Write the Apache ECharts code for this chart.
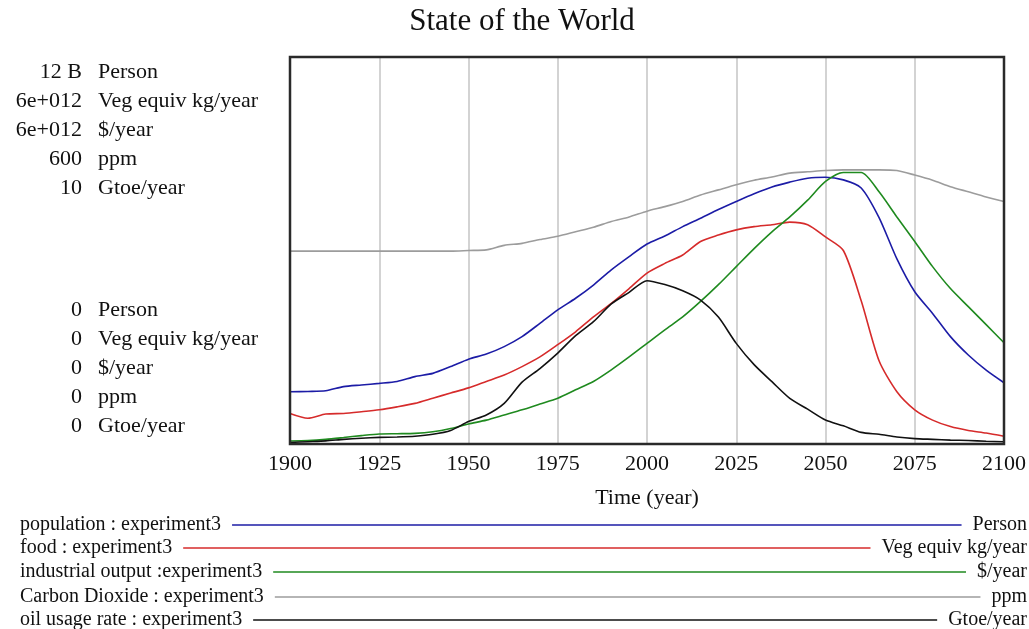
<!DOCTYPE html>
<html>
<head>
<meta charset="utf-8">
<title>State of the World</title>
<script src="https://cdn.jsdelivr.net/npm/echarts@6/dist/echarts.min.js"></script>
<style>
  html, body { margin: 0; padding: 0; background: #fff; }
  #chart { width: 1029px; height: 629px; }
</style>
</head>
<body>
<div id="chart"></div>
<script>
// Simulation output, sampled every 5 years
const years = [1900,1905,1910,1915,1920,1925,1930,1935,1940,1945,1950,1955,1960,1965,1970,1975,1980,1985,1990,1995,
               2000,2005,2010,2015,2020,2025,2030,2035,2040,2045,2050,2055,2060,2065,2070,2075,2080,2085,2090,2095,2100];

// population (billion persons)
const population = [1.62,1.63,1.65,1.78,1.83,1.88,1.94,2.09,2.19,2.40,2.63,2.79,3.02,3.33,3.74,4.16,4.52,4.93,5.40,5.81,
                    6.20,6.45,6.74,7.00,7.27,7.52,7.76,7.97,8.12,8.24,8.27,8.19,7.94,7.02,5.74,4.72,4.05,3.33,2.76,2.29,1.90];

// food (1e12 veg equiv kg/year)
const food = [0.474,0.40,0.465,0.474,0.50,0.53,0.576,0.63,0.71,0.79,0.87,0.97,1.07,1.20,1.35,1.54,1.74,1.97,2.18,2.41,
              2.65,2.80,2.93,3.14,3.24,3.32,3.37,3.40,3.44,3.40,3.21,3.00,2.22,1.29,0.81,0.53,0.37,0.27,0.21,0.17,0.12];

// industrial output (1e12 $/year)
const industrialOutput = [0.047,0.054,0.072,0.10,0.13,0.156,0.16,0.165,0.19,0.24,0.31,0.37,0.45,0.53,0.62,0.71,0.84,0.97,1.15,1.35,
                          1.56,1.77,1.97,2.21,2.47,2.75,3.03,3.29,3.52,3.78,4.07,4.21,4.21,3.91,3.52,3.14,2.75,2.41,2.13,1.85,1.57];

// carbon dioxide (ppm)
const carbonDioxide = [299,299,299,299,299,299,299,299,299,299,300,301,308,311,317,322,329,336,345,352,
                       361,368,376,386,394,402,409,414,420,422,424,425,425,425,424,417,409,399,391,383,376];

// oil usage rate (Gtoe/year)
const oilUsage = [0.04,0.06,0.08,0.12,0.15,0.17,0.18,0.20,0.25,0.35,0.58,0.75,1.05,1.60,1.95,2.35,2.80,3.16,3.62,3.92,
                  4.22,4.12,3.96,3.72,3.28,2.60,2.05,1.61,1.18,0.90,0.62,0.47,0.30,0.25,0.18,0.14,0.12,0.10,0.09,0.07,0.06];

const seriesNames = ['population : experiment3', 'food : experiment3', 'industrial output :experiment3',
                     'Carbon Dioxide : experiment3', 'oil usage rate : experiment3'];
const units = ['Person', 'Veg equiv kg/year', '$/year', 'ppm', 'Gtoe/year'];
const scaleMax = [12, 6, 6, 600, 10];
const scaleTopLabels = ['12 B', '6e+012', '6e+012', '600', '10'];
const scaleBottomLabels = ['0', '0', '0', '0', '0'];
const xTicks = [1900, 2100, 25];

const seriesValues = [population, food, industrialOutput, carbonDioxide, oilUsage];
const colors = ['#1c1ca6', '#d62b2b', '#1f8a1f', '#9c9c9c', '#111111'];

const SERIF = '"Liberation Serif", "DejaVu Serif", serif';
const chart = echarts.init(document.getElementById('chart'));

// grid box in pixels
const G = { left: 290, top: 57, width: 717, height: 387 };

// text width measurement for legend line lengths
const measureCtx = document.createElement('canvas').getContext('2d');
function textWidth(str, size) {
  measureCtx.font = size + 'px ' + SERIF;
  return measureCtx.measureText(str).width;
}

const graphics = [];

// Title
graphics.push({
  type: 'text', x: 522, y: 22,
  style: { text: 'State of the World', font: '31px ' + SERIF, fill: '#111',
           textAlign: 'center', textVerticalAlign: 'middle' }
});

// Scale labels to the left of the plot
const scaleFont = 22;
const rowStep = 29;
for (let i = 0; i < units.length; i++) {
  const yTop = 72 + i * rowStep;
  const yBot = 310 + i * rowStep;
  [[scaleTopLabels[i], yTop], [scaleBottomLabels[i], yBot]].forEach(([val, yy]) => {
    graphics.push({
      type: 'text', x: 82, y: yy,
      style: { text: val, font: scaleFont + 'px ' + SERIF, fill: '#111',
               textAlign: 'right', textVerticalAlign: 'middle' }
    });
    graphics.push({
      type: 'text', x: 98, y: yy,
      style: { text: units[i], font: scaleFont + 'px ' + SERIF, fill: '#111',
               textAlign: 'left', textVerticalAlign: 'middle' }
    });
  });
}

// Legend rows under the plot
const legendFont = 20;
const legendY = [525, 548, 572, 597, 620];
for (let i = 0; i < seriesNames.length; i++) {
  const yy = legendY[i];
  const leftW = textWidth(seriesNames[i], legendFont);
  const rightW = textWidth(units[i], legendFont);
  const xLeft = 20, xRight = 1027;
  graphics.push({
    type: 'text', x: xLeft, y: yy,
    style: { text: seriesNames[i], font: legendFont + 'px ' + SERIF, fill: '#111',
             textAlign: 'left', textVerticalAlign: 'middle' }
  });
  graphics.push({
    type: 'text', x: xRight, y: yy,
    style: { text: units[i], font: legendFont + 'px ' + SERIF, fill: '#111',
             textAlign: 'right', textVerticalAlign: 'middle' }
  });
  graphics.push({
    type: 'line',
    shape: { x1: xLeft + leftW + 11, y1: yy, x2: xRight - rightW - 11, y2: yy },
    style: { stroke: colors[i], lineWidth: 1.6 }
  });
}

const yAxes = scaleMax.map(m => ({
  type: 'value', min: 0, max: m, show: false, gridIndex: 0,
  splitLine: { show: false }
}));

const series = seriesValues.map((vals, i) => ({
  name: seriesNames[i],
  type: 'line',
  yAxisIndex: i,
  data: years.map((yr, k) => [yr, vals[k]]),
  showSymbol: false,
  smooth: 0.25,
  lineStyle: { color: colors[i], width: 1.6 },
  itemStyle: { color: colors[i] },
  z: 3 + i
}));

chart.setOption({
  animation: false,
  backgroundColor: '#fff',
  grid: {
    left: G.left, top: G.top, width: G.width, height: G.height,
    show: true, borderColor: '#2a2a2a', borderWidth: 2.5, backgroundColor: 'transparent', z: 10
  },
  xAxis: {
    type: 'value', min: xTicks[0], max: xTicks[1], interval: xTicks[2],
    name: 'Time (year)', nameLocation: 'middle', nameGap: 43,
    nameTextStyle: { fontFamily: SERIF, fontSize: 22, color: '#111' },
    axisLine: { show: false },
    axisTick: { show: false },
    axisLabel: { fontFamily: SERIF, fontSize: 22, color: '#111', margin: 9,
                 formatter: v => String(v) },
    splitLine: { show: true, lineStyle: { color: '#c4c4c4', width: 1.5 } }
  },
  yAxis: yAxes,
  series: series,
  graphic: graphics
});
</script>
</body>
</html>
